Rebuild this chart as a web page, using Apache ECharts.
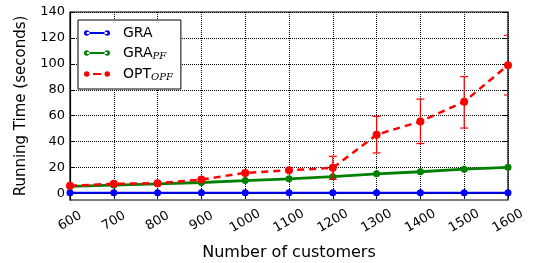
<!DOCTYPE html>
<html><head><meta charset="utf-8">
<script src="https://cdn.jsdelivr.net/npm/echarts@6/dist/echarts.min.js"></script>
<style>html,body{margin:0;padding:0;background:#fff}#c{width:541px;height:263px}</style>
</head><body><div id="c"></div>
<script>
var customers = [600,700,800,900,1000,1100,1200,1300,1400,1500,1600];
var gra = [0.5,0.5,0.5,0.5,0.5,0.5,0.5,0.5,0.5,0.5,0.5];
var graPF = [5.5,6.5,7.5,8.5,10,11.3,13,15.2,16.8,18.8,20.2];
var optOPF = [6,7.5,8,10.8,15.9,17.9,19.8,45.4,55.6,70.8,99];
var optLow = [null,null,null,null,null,null,11,31.3,38.5,50.5,76];
var optHigh = [null,null,null,null,null,null,28.7,59.5,72.8,90.2,122];
var yTicks = [0,20,40,60,80,100,120,140];

function pts(v){return customers.map(function(c,i){return [c,v[i]];});}
var errData = customers.map(function(c,i){return [c,optLow[i],optHigh[i]];}).filter(function(d){return d[1]!=null;});

var circ = function(cx){return 'M'+(cx-4)+',5 a4,4 0 1,0 8,0 a4,4 0 1,0 -8,0 Z ';};
var iconSolid = 'path://' + circ(5) + 'M5,3.6 L35,3.6 L35,6.4 L5,6.4 Z ' + circ(35);
var iconDash = 'path://' + circ(5) + 'M14,3.6 L26,3.6 L26,6.4 L14,6.4 Z ' + circ(35);

var chart = echarts.init(document.getElementById('c'));
var font = 'DejaVu Sans';
var grid = {color:'#000',type:'dotted',width:1};
chart.setOption({
  animation:false,
  textStyle:{fontFamily:font},
  grid:{left:70,right:33,top:12,bottom:63,show:true,borderColor:'#000',borderWidth:1.2,
        containLabel:false,outerBoundsMode:'none'},
  legend:{
    left:78,top:20,orient:'vertical',backgroundColor:'#fff',borderColor:'#000',borderWidth:1,
    padding:[6,8,7,6],itemGap:6,itemWidth:26,itemHeight:7,
    textStyle:{fontFamily:font,fontSize:14,color:'#000',padding:[0,0,0,8],
      rich:{s:{fontFamily:'DejaVu Serif',fontStyle:'italic',fontSize:10,verticalAlign:'bottom',padding:[6,0,0,0]},n:{fontSize:14}}},
    formatter:function(n){
      if(n==='GRA_PF') return '{n|GRA}{s|PF}';
      if(n==='OPT_OPF') return '{n|OPT}{s|OPF}';
      return n;
    },
    data:[{name:'GRA',icon:iconSolid},{name:'GRA_PF',icon:iconSolid},{name:'OPT_OPF',icon:iconDash}]
  },
  xAxis:[{
    type:'value',min:600,max:1600,interval:100,
    name:'Number of customers',nameLocation:'middle',nameGap:45,
    nameTextStyle:{fontSize:16,color:'#000',fontFamily:font},
    axisLine:{show:true,lineStyle:{color:'#000',width:1.2}},
    axisTick:{show:true,inside:true,length:5,lineStyle:{color:'#000'}},
    axisLabel:{rotate:30,fontSize:13,color:'#000',margin:21,align:'center',verticalAlign:'middle',fontFamily:font,
      formatter:function(v){return String(v);}},
    splitLine:{show:true,lineStyle:grid}
  },{
    type:'value',min:600,max:1600,interval:100,position:'top',
    axisLine:{show:false},axisTick:{show:true,inside:true,length:5,lineStyle:{color:'#000'}},
    axisLabel:{show:false},splitLine:{show:false}
  }],
  yAxis:[{
    type:'value',min:-5,max:140,
    name:'Running Time (seconds)',nameLocation:'middle',nameGap:41,
    nameTextStyle:{fontSize:15,color:'#000',fontFamily:font},
    axisLine:{show:true,lineStyle:{color:'#000',width:1.2}},
    axisTick:{show:true,inside:true,length:5,customValues:yTicks,lineStyle:{color:'#000'}},
    axisLabel:{fontSize:13,color:'#000',margin:5,customValues:yTicks,fontFamily:font},
    splitLine:{show:true,lineStyle:grid}
  },{
    type:'value',min:-5,max:140,position:'right',
    axisLine:{show:false},
    axisTick:{show:true,inside:true,length:5,customValues:yTicks,lineStyle:{color:'#000'}},
    axisLabel:{show:false,customValues:yTicks},splitLine:{show:false}
  }],
  series:[
    {name:'GRA',type:'line',data:pts(gra),symbol:'circle',symbolSize:7,
     itemStyle:{color:'#0000ff'},lineStyle:{color:'#0000ff',width:2},z:3},
    {name:'GRA_PF',type:'line',data:pts(graPF),symbol:'circle',symbolSize:7,
     itemStyle:{color:'#008000'},lineStyle:{color:'#008000',width:2.8},z:3},
    {name:'OPT_OPF',type:'line',data:pts(optOPF),symbol:'circle',symbolSize:8,
     itemStyle:{color:'#ff0000'},lineStyle:{color:'#ff0000',width:2.5,type:[7,5]},z:4},
    {name:'OPT_OPF',type:'custom',data:errData,z:4,clip:true,
     renderItem:function(params,api){
       var x=api.value(0),lo=api.value(1),hi=api.value(2);
       var p1=api.coord([x,lo]),p2=api.coord([x,hi]);
       var w=4, st={stroke:'#ff0000',lineWidth:1.2};
       return {type:'group',children:[
         {type:'line',shape:{x1:p1[0],y1:p1[1],x2:p2[0],y2:p2[1]},style:st},
         {type:'line',shape:{x1:p1[0]-w,y1:p1[1],x2:p1[0]+w,y2:p1[1]},style:st},
         {type:'line',shape:{x1:p2[0]-w,y1:p2[1],x2:p2[0]+w,y2:p2[1]},style:st}
       ]};
     }}
  ]
});
</script></body></html>
